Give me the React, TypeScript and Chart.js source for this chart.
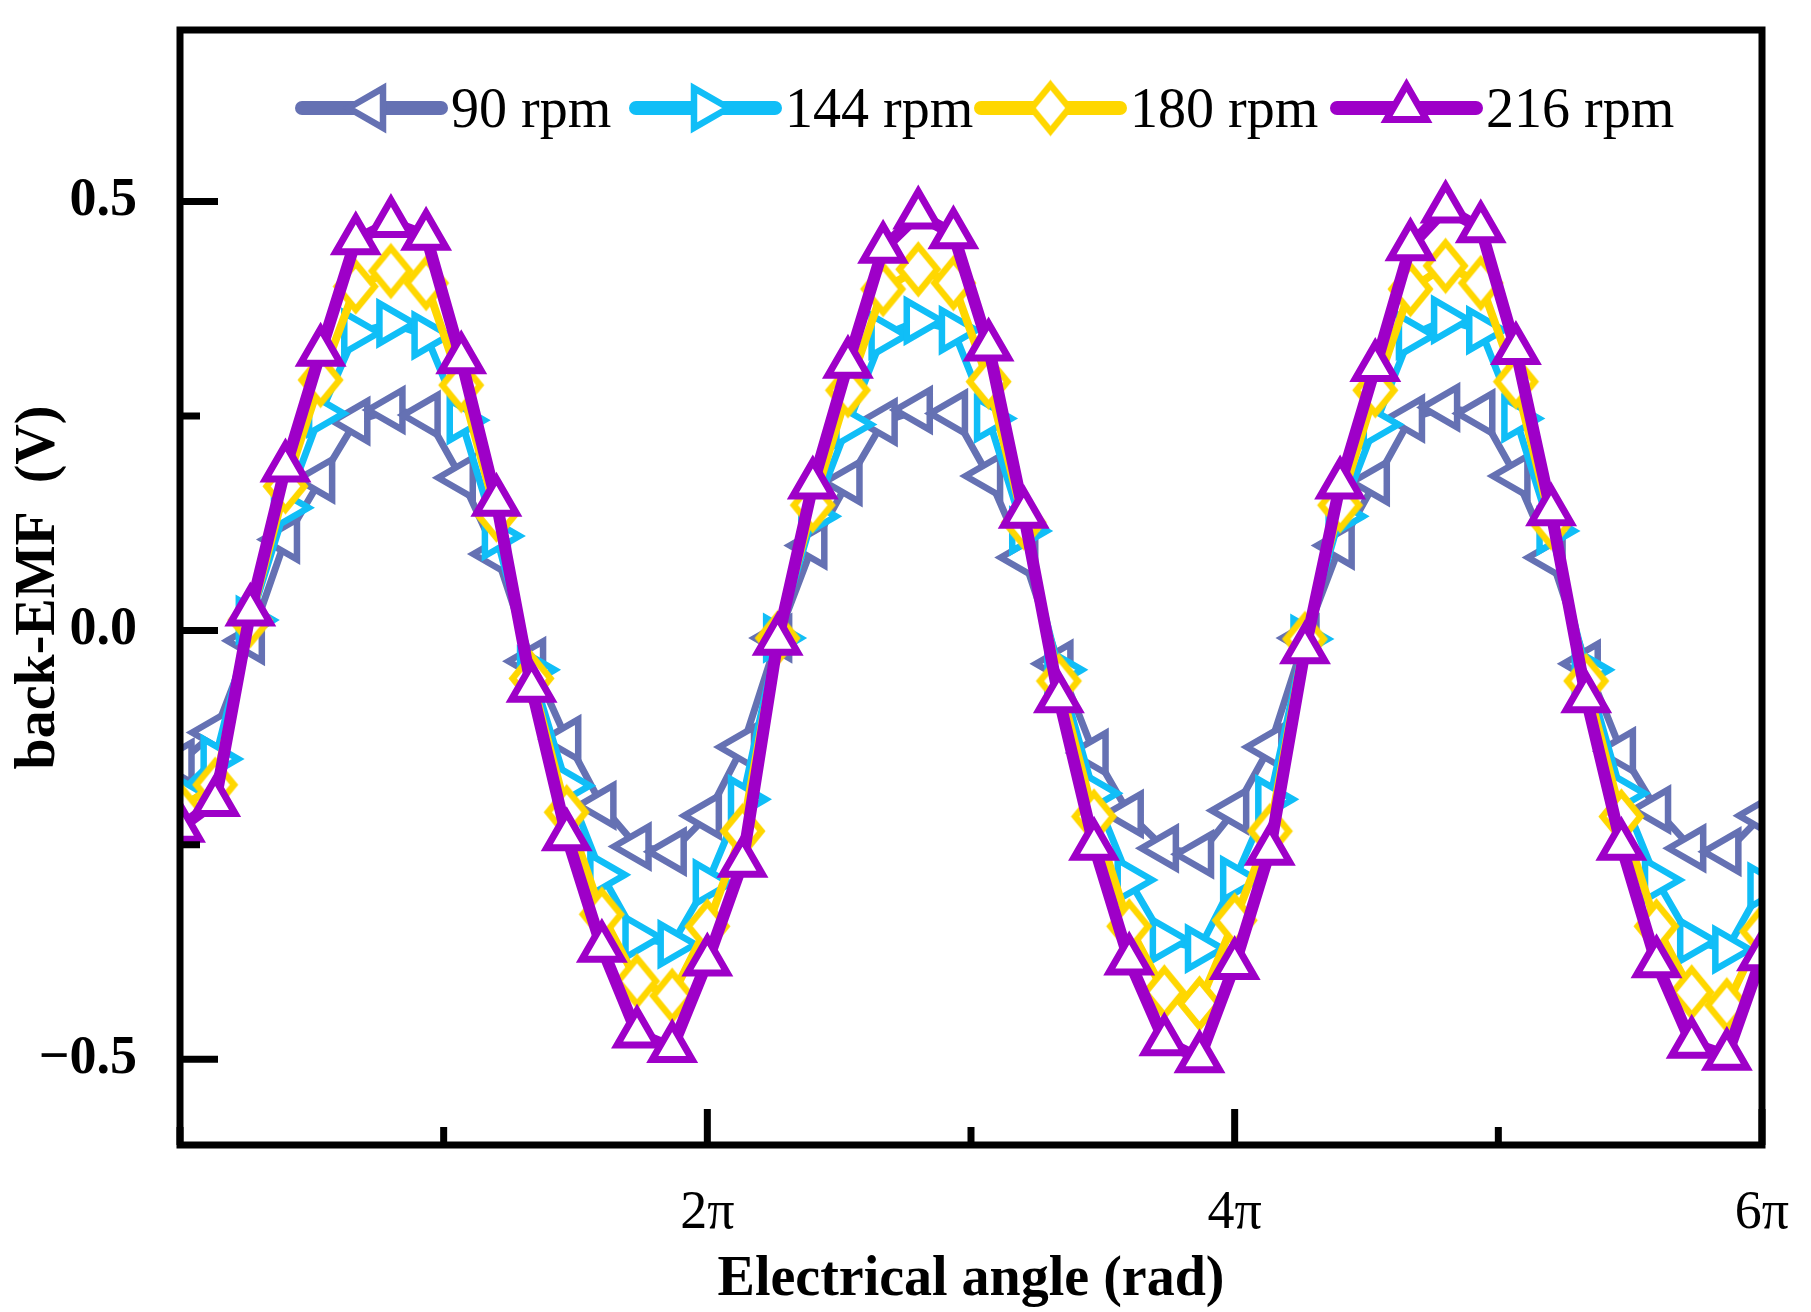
import { useEffect, useRef } from 'react';
import { Chart, registerables } from 'chart.js';

Chart.register(...registerables);

// electrical angle of each sample, degrees (24° steps over three periods)
const angleDeg = [
  0, 24, 48, 72, 96, 120, 144, 168, 192, 216, 240, 264, 288, 312, 336, 360,
  384, 408, 432, 456, 480, 504, 528, 552, 576, 600, 624, 648, 672, 696, 720,
  744, 768, 792, 816, 840, 864, 888, 912, 936, 960, 984, 1008, 1032, 1056, 1080,
];

const emf90 = [
  -0.154, -0.119, -0.012, 0.106, 0.176, 0.244, 0.257, 0.251, 0.178, 0.089, -0.036, -0.127, -0.204, -0.252, -0.258, -0.216,
  -0.136, -0.009, 0.099, 0.173, 0.243, 0.257, 0.253, 0.18, 0.085, -0.039, -0.143, -0.214, -0.254, -0.261, -0.21,
  -0.136, -0.009, 0.099, 0.173, 0.247, 0.26, 0.253, 0.18, 0.085, -0.039, -0.141, -0.209, -0.254, -0.258, -0.216,
];

const emf144 = [
  -0.19, -0.15, 0.012, 0.143, 0.253, 0.347, 0.358, 0.344, 0.245, 0.11, -0.046, -0.181, -0.285, -0.358, -0.366, -0.295,
  -0.197, -0.009, 0.133, 0.24, 0.344, 0.361, 0.35, 0.247, 0.116, -0.046, -0.19, -0.291, -0.361, -0.371, -0.291,
  -0.197, -0.01, 0.133, 0.24, 0.344, 0.362, 0.35, 0.247, 0.116, -0.046, -0.19, -0.291, -0.362, -0.372, -0.299,
];

const emf180 = [
  -0.208, -0.18, 0.012, 0.168, 0.292, 0.401, 0.419, 0.405, 0.286, 0.135, -0.056, -0.212, -0.331, -0.409, -0.426, -0.345,
  -0.234, -0.009, 0.146, 0.28, 0.398, 0.421, 0.405, 0.29, 0.126, -0.059, -0.217, -0.345, -0.422, -0.435, -0.338,
  -0.234, -0.01, 0.146, 0.28, 0.398, 0.425, 0.405, 0.29, 0.126, -0.059, -0.217, -0.345, -0.422, -0.437, -0.351,
];

const emf216 = [
  -0.23, -0.2, 0.022, 0.19, 0.325, 0.455, 0.475, 0.46, 0.316, 0.15, -0.067, -0.24, -0.37, -0.47, -0.487, -0.386,
  -0.271, -0.012, 0.17, 0.311, 0.445, 0.485, 0.462, 0.331, 0.136, -0.079, -0.251, -0.385, -0.479, -0.499, -0.39,
  -0.257, -0.022, 0.17, 0.307, 0.448, 0.492, 0.469, 0.327, 0.139, -0.079, -0.251, -0.388, -0.482, -0.496, -0.38,
];

const seriesLabels = ['90 rpm', '144 rpm', '180 rpm', '216 rpm'];

// x ticks at multiples of π
const xTickMultiples = [0, 1, 2, 3, 4, 5, 6];
const xTickLabels = ['', '', '2π', '', '4π', '', '6π'];
const xMajor = [false, false, true, false, true, false, true];

const yTickValues = [-0.5, -0.25, 0, 0.25, 0.5];
const yTickLabels = ['−0.5', '', '0.0', '', '0.5'];
const yMajor = [true, false, true, false, true];

// legend item starts, measured from the left edge of the plot
const legendOffsets = [122, 456, 801, 1157];

type Marker = {
  color: string;
  lineWidth: number;
  style: 'triangle' | 'diamond';
  rotation: number;
  radius: number;
  markerWidth: number;
};

const markers: Marker[] = [
  { color: '#6571B3', lineWidth: 7, style: 'triangle', rotation: -90, radius: 23, markerWidth: 6.5 },
  { color: '#10BEF7', lineWidth: 7, style: 'triangle', rotation: 90, radius: 23, markerWidth: 6.5 },
  { color: '#FFD700', lineWidth: 8, style: 'diamond', rotation: 0, radius: 23, markerWidth: 6.5 },
  { color: '#9E00C8', lineWidth: 12, style: 'triangle', rotation: 0, radius: 23, markerWidth: 7 },
];

const FONT = "'Liberation Serif', 'Times New Roman', serif";

// Origin-style diamond: a bit taller than wide
function makeDiamond(m: Marker) {
  const hw = m.radius * 0.82;
  const hh = m.radius;
  const pad = m.markerWidth + 2;
  const c = document.createElement('canvas');
  c.width = Math.ceil(2 * (hw + pad));
  c.height = Math.ceil(2 * (hh + pad));
  const g = c.getContext('2d')!;
  const cx = c.width / 2;
  const cy = c.height / 2;
  g.beginPath();
  g.moveTo(cx, cy - hh);
  g.lineTo(cx + hw, cy);
  g.lineTo(cx, cy + hh);
  g.lineTo(cx - hw, cy);
  g.closePath();
  g.fillStyle = '#fff';
  g.fill();
  g.lineWidth = m.markerWidth;
  g.lineJoin = 'miter';
  g.strokeStyle = m.color;
  g.stroke();
  return c;
}

function drawTriangle(ctx: CanvasRenderingContext2D, m: Marker, x: number, y: number) {
  ctx.save();
  ctx.translate(x, y);
  ctx.rotate((m.rotation * Math.PI) / 180);
  ctx.beginPath();
  for (let i = 0; i < 3; i++) {
    const a = (i * 2 * Math.PI) / 3;
    const px = Math.sin(a) * m.radius;
    const py = -Math.cos(a) * m.radius;
    if (i === 0) ctx.moveTo(px, py);
    else ctx.lineTo(px, py);
  }
  ctx.closePath();
  ctx.fillStyle = '#fff';
  ctx.fill();
  ctx.lineWidth = m.markerWidth;
  ctx.strokeStyle = m.color;
  ctx.stroke();
  ctx.restore();
}

const seriesValues = [emf90, emf144, emf180, emf216];

const App = () => {
  const chartRef = useRef<HTMLCanvasElement | null>(null);
  const chartInstance = useRef<Chart | null>(null);

  useEffect(() => {
    document.body.style.margin = '0';
    if (!chartRef.current) return;

    if (chartInstance.current) {
      chartInstance.current.destroy();
    }

    const pointImages = markers.map((m) => (m.style === 'diamond' ? makeDiamond(m) : null));

    const framePlugin = {
      id: 'frame',
      afterDraw(chart: any) {
        const { ctx, chartArea: a, scales } = chart;
        ctx.save();
        ctx.strokeStyle = '#000';
        ctx.lineWidth = 7;
        ctx.lineCap = 'butt';
        ctx.strokeRect(a.left, a.top, a.right - a.left, a.bottom - a.top);

        // inward ticks
        ctx.beginPath();
        xTickMultiples.forEach((k, i) => {
          const px = scales.x.getPixelForValue(k * Math.PI);
          const len = xMajor[i] ? 36 : 18;
          ctx.moveTo(px, a.bottom);
          ctx.lineTo(px, a.bottom - len);
        });
        yTickValues.forEach((v, i) => {
          const py = scales.y.getPixelForValue(v);
          const len = yMajor[i] ? 38 : 20;
          ctx.moveTo(a.left, py);
          ctx.lineTo(a.left + len, py);
        });
        ctx.stroke();

        // legend: line with marker, then label
        ctx.font = `56px ${FONT}`;
        ctx.textBaseline = 'alphabetic';
        ctx.textAlign = 'left';
        const y = a.top + 78;
        const lineLen = 139;
        seriesLabels.forEach((label, i) => {
          const m = markers[i];
          const x = a.left + legendOffsets[i];
          ctx.beginPath();
          ctx.lineCap = 'round';
          ctx.lineWidth = 14;
          ctx.strokeStyle = m.color;
          ctx.moveTo(x, y);
          ctx.lineTo(x + lineLen, y);
          ctx.stroke();
          const img = pointImages[i];
          if (img) {
            ctx.drawImage(img, x + lineLen / 2 - img.width / 2, y - img.height / 2);
          } else {
            drawTriangle(ctx, m, x + lineLen / 2, y);
          }
          ctx.fillStyle = '#000';
          ctx.fillText(label, x + lineLen + 10, y + 19);
        });
        ctx.restore();
      },
    };

    chartInstance.current = new Chart(chartRef.current, {
      type: 'line',
      data: {
        datasets: seriesValues.map((values, i) => ({
          label: seriesLabels[i],
          data: angleDeg.map((d, j) => ({ x: (d * Math.PI) / 180, y: values[j] })),
          borderColor: markers[i].color,
          borderWidth: markers[i].lineWidth,
          borderJoinStyle: 'round' as const,
          borderCapStyle: 'round' as const,
          tension: 0,
          fill: false,
          pointStyle: (pointImages[i] ?? 'triangle') as any,
          pointRotation: markers[i].rotation,
          pointRadius: markers[i].radius,
          pointBorderWidth: markers[i].markerWidth,
          pointBorderColor: markers[i].color,
          pointBackgroundColor: '#fff',
          order: seriesValues.length - 1 - i,
        })),
      },
      options: {
        responsive: false,
        animation: false,
        layout: { padding: { left: 0, top: 23, right: 49, bottom: 0 } },
        plugins: {
          legend: { display: false },
          tooltip: { enabled: false },
        },
        scales: {
          x: {
            type: 'linear',
            min: 0,
            max: 6 * Math.PI,
            afterBuildTicks: (scale: any) => {
              scale.ticks = xTickMultiples.map((k) => ({ value: k * Math.PI }));
            },
            afterFit: (scale: any) => {
              scale.height = 167;
              scale.paddingLeft = 0;
              scale.paddingRight = 0;
            },
            ticks: {
              autoSkip: false,
              maxRotation: 0,
              padding: 36,
              color: '#000',
              font: { family: FONT, size: 54 },
              callback: (_v: any, index: number) => xTickLabels[index],
            },
            grid: { display: false, drawTicks: false },
            border: { display: false },
            title: {
              display: true,
              text: 'Electrical angle (rad)',
              color: '#000',
              font: { family: FONT, size: 56, weight: 'bold', lineHeight: 1.1 },
              padding: { top: 0, bottom: 1 },
            },
          },
          y: {
            type: 'linear',
            min: -0.6,
            max: 0.7,
            afterBuildTicks: (scale: any) => {
              scale.ticks = yTickValues.map((v) => ({ value: v }));
            },
            afterFit: (scale: any) => {
              scale.width = 180;
              scale.paddingTop = 0;
              scale.paddingBottom = 0;
            },
            ticks: {
              autoSkip: false,
              padding: 43,
              color: '#000',
              font: { family: FONT, size: 54, weight: 'bold' },
              callback: (_v: any, index: number) => yTickLabels[index],
            },
            grid: { display: false, drawTicks: false },
            border: { display: false },
            title: {
              display: true,
              text: 'back-EMF  (V)',
              color: '#000',
              font: { family: FONT, size: 56, weight: 'bold', lineHeight: 1.1 },
              padding: { top: 9, bottom: 0 },
            },
          },
        },
      },
      plugins: [framePlugin],
    });

    return () => {
      if (chartInstance.current) {
        chartInstance.current.destroy();
        chartInstance.current = null;
      }
    };
  }, []);

  return (
    <div style={{ width: 1811, height: 1312, background: '#fff' }}>
      <canvas ref={chartRef} width={1811} height={1312} style={{ display: 'block' }}></canvas>
    </div>
  );
};

export default App;
